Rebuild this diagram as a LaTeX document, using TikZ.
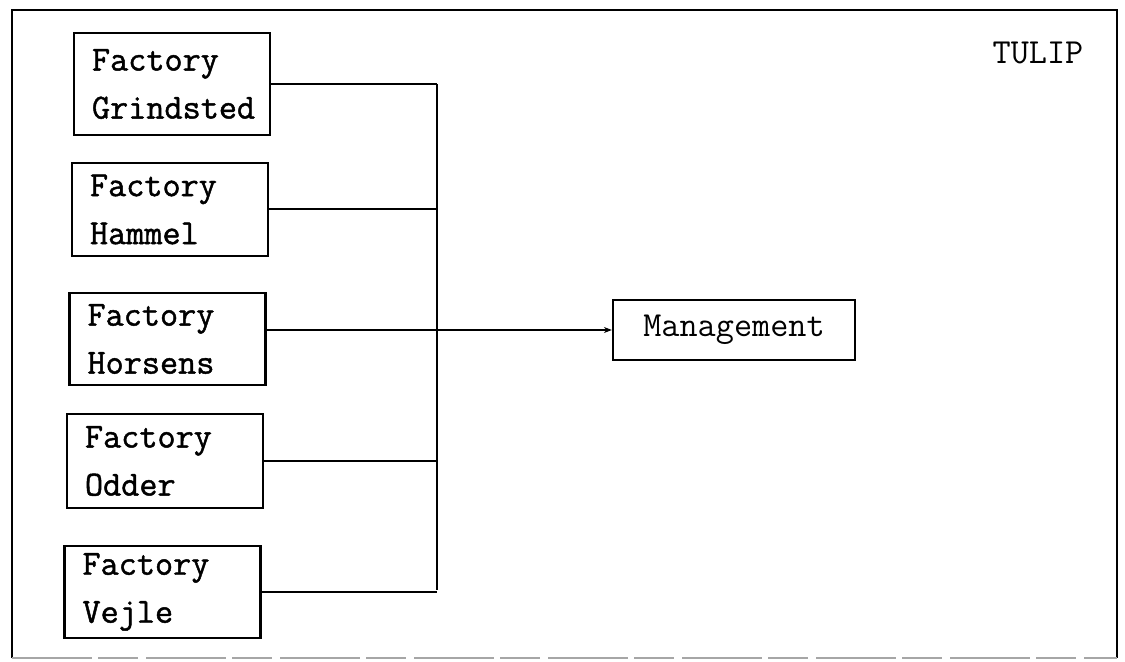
\documentclass[tikz,border=0pt]{standalone}
\usepackage{fontspec}
\usetikzlibrary{arrows.meta}
\newfontfamily\twbold[FakeBold=1.3]{Latin Modern Mono}
\newfontfamily\twlight{Latin Modern Mono}
\tikzset{
  frameline/.style={line width=1.1pt, black},
  factbox/.style={draw, line width=1.1pt, minimum width=98pt, text width=80pt, align=left,
    inner xsep=9pt, font=\twbold\fontsize{17.6pt}{24pt}\selectfont},
  mgmtbox/.style={draw, line width=1.1pt, minimum width=121pt, minimum height=30pt,
    font=\twlight\fontsize{17.6pt}{24pt}\selectfont},
  conn/.style={line width=1pt, black},
  lbl/.style={font=\twlight\fontsize{17.6pt}{24pt}\selectfont}
}
\begin{document}
\begin{tikzpicture}[x=0.5pt,y=-0.5pt]
\useasboundingbox (0,0) rectangle (1125,662);
% outer frame
\coordinate (tl) at (12,10);
\coordinate (tr) at (1117,10);
\coordinate (bl) at (12,658);
\coordinate (br) at (1117,658);
\draw[frameline] (bl) -- (tl) -- (tr) -- (br);
\draw[line width=0.8pt, black!35, dash pattern=on 40pt off 3pt on 20pt off 4pt] (bl) -- (br);
% factories
\node[factbox, minimum height=51pt] (gr) at (172,84) {Factory\\Grindsted};
\node[factbox, minimum height=46.5pt] (ha) at (170,209.5) {Factory\\Hammel};
\node[factbox, minimum height=46pt] (ho) at (167.5,339) {Factory\\Horsens};
\node[factbox, minimum height=47pt] (od) at (165,461) {Factory\\Odder};
\node[factbox, minimum height=46pt] (ve) at (162.5,592) {Factory\\Vejle};
% management
\node[mgmtbox] (mg) at (734,330) {Management};
% title
\node[lbl] (tulip) at (1038,53) {TULIP};
% bus
\coordinate (bustop) at (437,84);
\coordinate (busbot) at (437,590);
\draw[conn] (bustop) -- (busbot);
\draw[conn] (gr.east) -- (gr.east -| bustop);
\draw[conn] (ha.east) -- (ha.east -| bustop);
\draw[conn] (od.east) -- (od.east -| bustop);
\draw[conn] (ve.east) -- (ve.east -| bustop);
\draw[conn, -{Stealth[length=4pt,width=3pt]}] (mg.west -| ho.east) -- (mg.west);
\end{tikzpicture}
\end{document}
